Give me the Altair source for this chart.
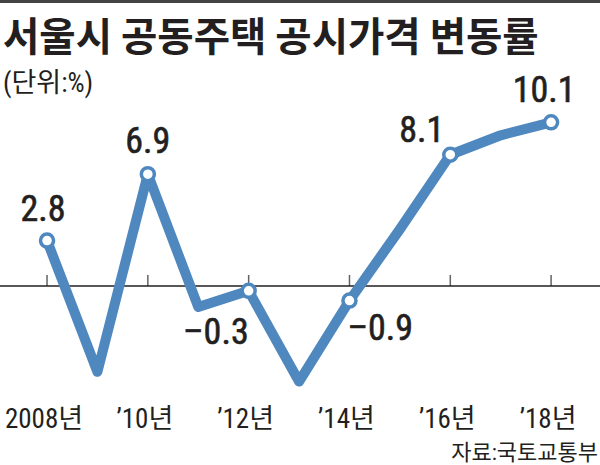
import altair as alt
import pandas as pd

# ---- data ----
years = [2008, 2009, 2010, 2011, 2012, 2013, 2014, 2015, 2016, 2017, 2018]
values = [2.8, -5.3, 6.9, -1.3, -0.3, -5.9, -0.9, 3.5, 8.1, 9.3, 10.1]
marked_years = [2008, 2010, 2012, 2014, 2016, 2018]
tick_labels = ["2008년", "’10년", "’12년", "’14년", "’16년", "’18년"]

title_text = "서울시 공동주택 공시가격 변동률"
unit_text = "(단위:%)"
source_text = "자료:국토교통부"

# ---- styles ----
BLUE = "#4f87bf"
INK = "#231f20"
NARROW = "'Roboto Condensed', 'Liberation Sans Narrow', Roboto, 'Noto Sans CJK KR', sans-serif"
KR = "'Noto Sans CJK KR', sans-serif"
KR_NARROW = "'Roboto Condensed', 'Liberation Sans Narrow', Roboto, 'Noto Sans CJK KR', sans-serif"

# label placement relative to each marked point: (align, dx, dy)
label_style = {
    2008: ("center", -4, -20),
    2010: ("center", 0, -21),
    2012: ("right", 0, 53),
    2014: ("left", -2, 39),
    2016: ("right", -6, -13),
    2018: ("center", -7, -20),
}

df = pd.DataFrame({"year": years, "value": values})
vals_by_year = dict(zip(years, values))
marked = pd.DataFrame({
    "year": marked_years,
    "value": [vals_by_year[y] for y in marked_years],
})
marked["label"] = [f"{v:.1f}".replace("-", "–") for v in marked["value"]]
ticks = pd.DataFrame({"year": marked_years, "label": tick_labels})

xs = alt.Scale(domain=[2007.067, 2018.97], nice=False, zero=False)
ys = alt.Scale(domain=[-11.05, 17.65], nice=False, zero=False)

X = alt.X("year:Q", scale=xs, axis=None)
Y = alt.Y("value:Q", scale=ys, axis=None)

top_rule = alt.Chart(pd.DataFrame({"a": [0]})).mark_rule(
    color="#444444", strokeWidth=3
).encode(y=alt.value(1.5))

zero_rule = alt.Chart(pd.DataFrame({"a": [0]})).mark_rule(
    color=INK, strokeWidth=1.5
).encode(y=alt.Y(datum=0, scale=ys, axis=None))

tick_marks = alt.Chart(ticks).mark_tick(
    orient="vertical", size=11, thickness=1.5, color=INK, yOffset=-5.5
).encode(x=X, y=alt.Y(datum=0, scale=ys, axis=None))

line = alt.Chart(df).mark_line(
    color=BLUE, strokeWidth=10, strokeJoin="round", strokeCap="round"
).encode(x=X, y=Y)

points = alt.Chart(marked).mark_point(
    filled=True, fill="white", stroke=BLUE, strokeWidth=3.5, size=170, opacity=1
).encode(x=X, y=Y)

label_layers = []
for yr, (align, dx, dy) in label_style.items():
    label_layers.append(
        alt.Chart(marked[marked["year"] == yr]).mark_text(
            align=align, baseline="alphabetic", dx=dx, dy=dy,
            font=NARROW, fontSize=36, fontWeight="normal", color=INK,
            stroke=INK, strokeWidth=0.6
        ).encode(x=X, y=Y, text="label:N")
    )

axis_labels = alt.Chart(ticks).mark_text(
    align="center", baseline="alphabetic", dx=-3,
    font=KR_NARROW, fontSize=27, color=INK
).encode(x=X, y=alt.value(428), text="label:N")

title = alt.Chart(pd.DataFrame({"t": [title_text]})).mark_text(
    align="left", baseline="alphabetic", font=KR, fontSize=39.5,
    fontWeight="bold", color=INK
).encode(x=alt.value(3), y=alt.value(51), text="t:N")

unit = alt.Chart(pd.DataFrame({"t": [unit_text]})).mark_text(
    align="left", baseline="alphabetic", font=KR_NARROW, fontSize=27, color=INK
).encode(x=alt.value(3), y=alt.value(92), text="t:N")

source = alt.Chart(pd.DataFrame({"t": [source_text]})).mark_text(
    align="right", baseline="alphabetic", font=KR_NARROW, fontSize=22, color=INK
).encode(x=alt.value(598), y=alt.value(460), text="t:N")

chart = alt.layer(
    top_rule, zero_rule, tick_marks, line, points, *label_layers,
    axis_labels, title, unit, source
).properties(
    width=600, height=465,
    autosize=alt.AutoSizeParams(type="none"),
    padding=0,
    background="white",
).configure_view(strokeWidth=0)

chart.save("out.html", embed_options={"renderer": "svg", "actions": False})
